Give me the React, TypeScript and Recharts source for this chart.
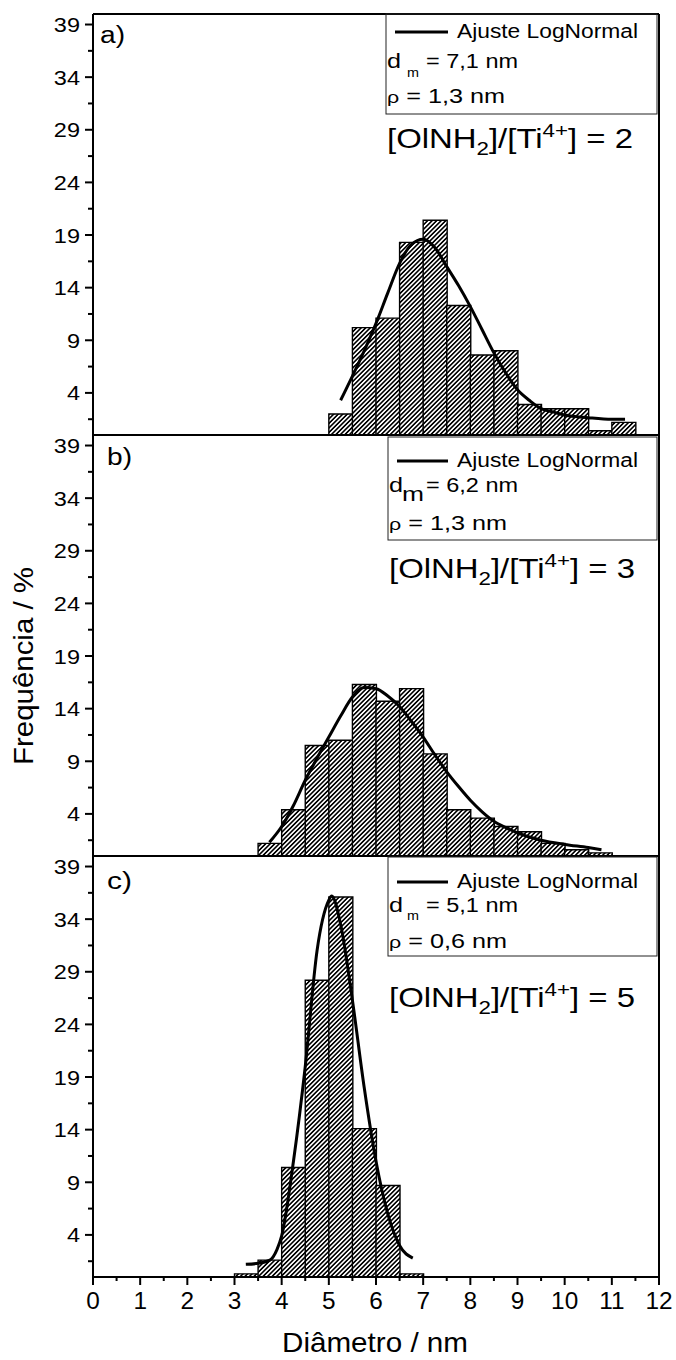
import React from 'react';
import { ComposedChart, Bar, Line, XAxis, YAxis } from 'recharts';

// histogram bins of 0.5 nm, centres from 0.25 to 11.75
const binCenters = [
  0.25, 0.75, 1.25, 1.75, 2.25, 2.75, 3.25, 3.75, 4.25, 4.75, 5.25, 5.75,
  6.25, 6.75, 7.25, 7.75, 8.25, 8.75, 9.25, 9.75, 10.25, 10.75, 11.25, 11.75,
];

// frequencies (%) per bin
const countsA = [0, 0, 0, 0, 0, 0, 0, 0, 0, 0, 2.0, 10.2, 11.1, 18.3, 20.4, 12.3, 7.6, 8.0, 2.9, 2.5, 2.5, 0.4, 1.2, 0];
const countsB = [0, 0, 0, 0, 0, 0, 0, 1.2, 4.4, 10.5, 11.0, 16.3, 14.7, 15.9, 9.7, 4.4, 3.6, 2.8, 2.3, 1.2, 0.6, 0.3, 0, 0];
const countsC = [0, 0, 0, 0, 0, 0, 0.3, 1.6, 10.4, 28.2, 36.1, 14.1, 8.7, 0.3, 0, 0, 0, 0, 0, 0, 0, 0, 0, 0];

// LogNormal fit curves
const fitXA = [5.25, 5.5, 5.75, 6, 6.25, 6.5, 6.75, 7, 7.25, 7.5, 7.75, 8, 8.25, 8.5, 8.75, 9, 9.25, 9.5, 9.75, 10, 10.5, 11, 11.28];
const fitYA = [3.3, 5.6, 8.0, 10.6, 13.5, 16.3, 18.1, 18.6, 17.8, 16.0, 14.2, 12.2, 10.0, 7.8, 5.9, 4.3, 3.3, 2.5, 2.2, 1.9, 1.65, 1.5, 1.5];

const fitXB = [3.74, 4, 4.25, 4.5, 4.75, 5, 5.25, 5.5, 5.75, 6, 6.25, 6.5, 6.75, 7, 7.25, 7.5, 7.75, 8, 8.25, 8.5, 8.75, 9, 9.5, 10, 10.5, 10.78];
const fitYB = [1.3, 2.8, 4.8, 7.2, 9.3, 11.3, 13.3, 15.1, 16.0, 15.9, 15.2, 14.2, 12.8, 11.3, 9.6, 8.0, 6.6, 5.3, 4.2, 3.3, 2.7, 2.2, 1.5, 1.1, 0.8, 0.6];

const fitXC = [3.24, 3.5, 3.75, 3.9, 4, 4.25, 4.5, 4.75, 5, 5.06, 5.25, 5.5, 5.75, 6, 6.25, 6.5, 6.78];
const fitYC = [1.2, 1.3, 1.6, 2.6, 3.9, 11, 20, 31, 35.8, 36.2, 33.5, 26.3, 18, 11, 6, 3.0, 1.8];

const xMajorTicks = [0, 1, 2, 3, 4, 5, 6, 7, 8, 9, 10, 11, 12];
const xMinorTicks = [0.5, 1.5, 2.5, 3.5, 4.5, 5.5, 6.5, 7.5, 8.5, 9.5, 10.5, 11.5];
const yMajorTicks = [4, 9, 14, 19, 24, 29, 34, 39];
const yMinorTicks = [1.5, 6.5, 11.5, 16.5, 21.5, 26.5, 31.5, 36.5];

const xTicks = [...xMajorTicks, ...xMinorTicks].sort((a, b) => a - b);
const yTicks = [...yMajorTicks, ...yMinorTicks].sort((a, b) => a - b);

const FONT = '"Liberation Sans", Arial, Helvetica, sans-serif';
const axisStyle = { stroke: '#000', strokeWidth: 2 };
const PLOT_H = 421;

const LeftTick = (props: any) => {
  const { x, y, payload } = props;
  const major = yMajorTicks.includes(payload.value);
  const axisX = x + 13; // tickSize 8 + tickMargin 5
  return (
    <g>
      <line x1={axisX - (major ? 8 : 5)} x2={axisX} y1={y} y2={y} stroke="#000" strokeWidth={2} />
      {major && (
        <text
          transform={`translate(${x},${y}) scale(1.12,1)`}
          textAnchor="end"
          dy="0.36em"
          fontSize={21}
          fontFamily={FONT}
          fill="#000"
        >
          {payload.value}
        </text>
      )}
    </g>
  );
};

const RightTick = (props: any) => {
  const { x, y, payload } = props;
  const major = yMajorTicks.includes(payload.value);
  const axisX = x - 7;
  return <line x1={axisX} x2={axisX + (major ? 7 : 5)} y1={y} y2={y} stroke="#000" strokeWidth={2} />;
};

const BottomTick = (props: any) => {
  const { x, y, payload } = props;
  const major = xMajorTicks.includes(payload.value);
  const axisY = y - 16; // tickSize 8 + tickMargin 8
  return (
    <g>
      <line x1={x} x2={x} y1={axisY} y2={axisY + (major ? 8 : 4)} stroke="#000" strokeWidth={2} />
      {major && (
        <text
          transform={`translate(${x},${y}) scale(1.06,1)`}
          textAnchor="middle"
          dy="0.71em"
          fontSize={23}
          fontFamily={FONT}
          fill="#000"
        >
          {payload.value}
        </text>
      )}
    </g>
  );
};

interface PanelProps {
  counts: number[];
  fitX: number[];
  fitY: number[];
  plotTop: number;
  padTop: number;
  xAxisHeight: number;
  showX: boolean;
}

const Panel = ({ counts, fitX, fitY, plotTop, padTop, xAxisHeight, showX }: PanelProps) => {
  const bars = binCenters.map((bin, i) => ({ bin, count: counts[i] }));
  const curve = fitX.map((x, i) => ({ x, y: fitY[i] }));
  return (
    <div style={{ position: 'absolute', left: 0, top: plotTop - padTop - 1 }}>
      <ComposedChart
        width={676}
        height={padTop + 1 + PLOT_H + xAxisHeight}
        data={bars}
        margin={{ top: padTop, right: 7, bottom: 0, left: 0 }}
        barCategoryGap={0}
        barGap={0}
        style={{ overflow: 'visible' }}
      >
        <XAxis xAxisId="bins" dataKey="bin" type="category" hide height={0} />
        <XAxis
          xAxisId="num"
          dataKey="x"
          type="number"
          domain={[0, 12]}
          ticks={xTicks}
          interval={0}
          height={xAxisHeight}
          tickSize={8}
          tickMargin={8}
          tickLine={false}
          tick={showX ? (p: any) => <BottomTick {...p} /> : false}
          axisLine={axisStyle}
        />
        <XAxis
          xAxisId="top"
          orientation="top"
          type="number"
          domain={[0, 12]}
          ticks={xMajorTicks}
          height={1}
          tick={false}
          tickLine={false}
          axisLine={axisStyle}
        />
        <YAxis
          yAxisId="left"
          type="number"
          domain={[0, 40]}
          ticks={yTicks}
          interval={0}
          width={93}
          tickSize={8}
          tickMargin={5}
          tickLine={false}
          tick={(p: any) => <LeftTick {...p} />}
          axisLine={axisStyle}
        />
        <YAxis
          yAxisId="right"
          orientation="right"
          type="number"
          domain={[0, 40]}
          ticks={yTicks}
          interval={0}
          width={10}
          tickSize={7}
          tickMargin={0}
          tickLine={false}
          tick={(p: any) => <RightTick {...p} />}
          axisLine={axisStyle}
        />
        <Bar
          xAxisId="bins"
          yAxisId="left"
          dataKey="count"
          fill="url(#hatch)"
          stroke="#000"
          strokeWidth={1.4}
          isAnimationActive={false}
        />
        <Line
          xAxisId="num"
          yAxisId="left"
          data={curve}
          dataKey="y"
          type="monotone"
          stroke="#000"
          strokeWidth={3}
          dot={false}
          isAnimationActive={false}
        />
      </ComposedChart>
    </div>
  );
};

// annotation layout for each panel
const notes = [
  { tag: 'a)', tagX: 100, tagY: 43, boxX: 386, boxY: 14, boxH: 100, lineY: 32, legY: 38, dY: 68, mBig: false, mY: 77, dm: '7,1', rY: 103, rho: '1,3', bigY: 148, ratio: '2' },
  { tag: 'b)', tagX: 107, tagY: 465, boxX: 388, boxY: 437, boxH: 103, lineY: 461, legY: 467, dY: 492, mBig: true, mY: 501, dm: '6,2', rY: 530, rho: '1,3', bigY: 578, ratio: '3' },
  { tag: 'c)', tagX: 107, tagY: 889, boxX: 388, boxY: 857, boxH: 99, lineY: 882, legY: 888, dY: 912, mBig: false, mY: 920, dm: '5,1', rY: 948, rho: '0,6', bigY: 1007, ratio: '5' },
];

const Notes = () => (
  <svg
    width={676}
    height={1360}
    style={{ position: 'absolute', left: 0, top: 0, pointerEvents: 'none' }}
    fontFamily={FONT}
    fill="#000"
  >
    {notes.map((n) => (
      <g key={n.tag}>
        <text x={n.tagX} y={n.tagY} fontSize={23} textLength={25} lengthAdjust="spacingAndGlyphs">
          {n.tag}
        </text>
        <rect x={n.boxX} y={n.boxY} width={657 - n.boxX} height={n.boxH} fill="none" stroke="#222" strokeWidth={1} />
        <line x1={n.boxX + 9} x2={448} y1={n.lineY} y2={n.lineY} stroke="#000" strokeWidth={3} />
        <text x={457} y={n.legY} fontSize={20} textLength={181} lengthAdjust="spacingAndGlyphs">
          Ajuste LogNormal
        </text>
        <text x={n.boxX + 1} y={n.dY} fontSize={20} textLength={14} lengthAdjust="spacingAndGlyphs">
          d
        </text>
        <text
          x={n.mBig ? 402 : 407}
          y={n.mY}
          fontSize={n.mBig ? 21 : 13}
          textLength={n.mBig ? 22 : 12}
          lengthAdjust="spacingAndGlyphs"
        >
          m
        </text>
        <text x={426} y={n.dY} fontSize={20} textLength={92} lengthAdjust="spacingAndGlyphs">
          = {n.dm} nm
        </text>
        <text x={n.boxX + 1} y={n.rY} fontSize={20} textLength={118} lengthAdjust="spacingAndGlyphs">
          <tspan fontSize={17}>ρ</tspan> = {n.rho} nm
        </text>
        <text x={n.boxX + 1} y={n.bigY} fontSize={28} textLength={246} lengthAdjust="spacingAndGlyphs">
          [OlNH
          <tspan fontSize={19} dy={7}>2</tspan>
          <tspan dy={-7}>]/[Ti</tspan>
          <tspan fontSize={19} dy={-11}>4+</tspan>
          <tspan dy={11}>] = {n.ratio}</tspan>
        </text>
      </g>
    ))}
    <text
      x={33}
      y={666}
      transform="rotate(-90 33 666)"
      textAnchor="middle"
      fontSize={28}
      textLength={198}
      lengthAdjust="spacingAndGlyphs"
    >
      Frequência / %
    </text>
    <text x={375} y={1352} textAnchor="middle" fontSize={28} textLength={186} lengthAdjust="spacingAndGlyphs">
      Diâmetro / nm
    </text>
  </svg>
);

export default function App() {
  return (
    <div
      style={{
        position: 'absolute',
        left: 0,
        top: 0,
        width: 676,
        height: 1360,
        background: '#fff',
        fontFamily: FONT,
        overflow: 'hidden',
      }}
    >
      <svg width={0} height={0} style={{ position: 'absolute' }}>
        <defs>
          <pattern id="hatch" width={3.2} height={3.2} patternUnits="userSpaceOnUse" patternTransform="rotate(45)">
            <rect width={3.2} height={3.2} fill="#fff" />
            <line x1={0.8} y1={0} x2={0.8} y2={3.2} stroke="#000" strokeWidth={1.6} />
          </pattern>
        </defs>
      </svg>
      <Panel counts={countsA} fitX={fitXA} fitY={fitYA} plotTop={14} padTop={13} xAxisHeight={1} showX={false} />
      <Panel counts={countsB} fitX={fitXB} fitY={fitYB} plotTop={435} padTop={0} xAxisHeight={1} showX={false} />
      <Panel counts={countsC} fitX={fitXC} fitY={fitYC} plotTop={856} padTop={0} xAxisHeight={83} showX={true} />
      <Notes />
    </div>
  );
}
